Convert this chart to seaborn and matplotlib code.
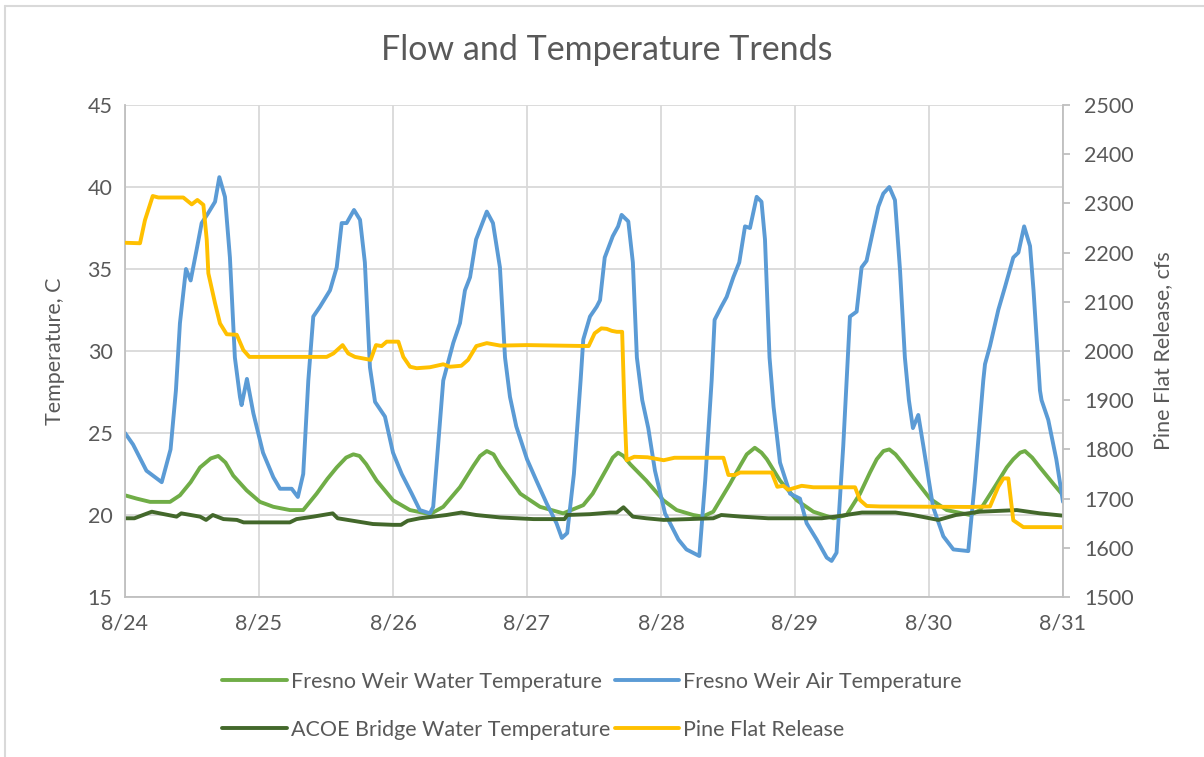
import matplotlib
matplotlib.use("Agg")
import matplotlib.pyplot as plt
from matplotlib.lines import Line2D
import seaborn as sns
import pandas as pd

# ---- data (x in days since 8/24 00:00) ----
air_day = [0.0, 0.06, 0.16, 0.274, 0.34, 0.38, 0.41, 0.455, 0.49, 0.535, 0.572, 0.62, 0.672, 0.704, 0.746,
           0.783, 0.82, 0.858, 0.87, 0.91, 0.958, 1.03, 1.107, 1.157, 1.244, 1.29, 1.33, 1.368, 1.405, 1.455,
           1.53, 1.58, 1.617, 1.654, 1.709, 1.754, 1.79, 1.828, 1.866, 1.94, 2.0, 2.065, 2.14, 2.2, 2.276,
           2.3, 2.375, 2.45, 2.5, 2.537, 2.575, 2.62, 2.70, 2.746, 2.798, 2.836, 2.873, 2.92, 3.0, 3.07,
           3.147, 3.22, 3.26, 3.3, 3.35, 3.4, 3.42, 3.47, 3.52, 3.545, 3.58, 3.64, 3.68, 3.706, 3.756,
           3.79, 3.82, 3.86, 3.905, 3.955, 4.03, 4.13, 4.19, 4.286, 4.33, 4.378, 4.40, 4.45, 4.49, 4.54,
           4.584, 4.627, 4.664, 4.714, 4.75, 4.776, 4.81, 4.84, 4.888, 4.963, 5.037, 5.087, 5.162, 5.237,
           5.273, 5.31, 5.36, 5.385, 5.41, 5.46, 5.497, 5.534, 5.584, 5.622, 5.659, 5.704, 5.746, 5.784,
           5.82, 5.85, 5.88, 5.92, 5.958, 6.03, 6.107, 6.182, 6.293, 6.343, 6.405, 6.418, 6.455, 6.517,
           6.567, 6.629, 6.667, 6.71, 6.754, 6.78, 6.828, 6.84, 6.89, 6.95, 7.0]
air_temp = [25.0, 24.3, 22.7, 22.0, 24.0, 27.6, 31.7, 35.0, 34.3, 36.2, 37.8, 38.4, 39.1, 40.6, 39.4,
            35.7, 29.6, 27.2, 26.7, 28.3, 26.2, 23.8, 22.3, 21.6, 21.6, 21.1, 22.5, 28.2, 32.1, 32.7,
            33.7, 35.1, 37.8, 37.8, 38.6, 38.0, 35.4, 29.0, 26.9, 26.0, 23.8, 22.5, 21.3, 20.3, 20.1,
            20.5, 28.2, 30.5, 31.7, 33.7, 34.5, 36.8, 38.5, 37.8, 35.1, 29.6, 27.2, 25.4, 23.4, 22.1,
            20.7, 19.5, 18.6, 18.9, 22.5, 28.2, 30.7, 32.1, 32.7, 33.1, 35.7, 37.0, 37.6, 38.3, 37.9,
            35.4, 29.6, 27.0, 25.3, 22.7, 20.1, 18.5, 17.9, 17.5, 22.1, 28.2, 31.9, 32.7, 33.3, 34.5,
            35.4, 37.6, 37.5, 39.4, 39.1, 36.8, 29.6, 26.6, 23.2, 21.3, 21.0, 19.5, 18.5, 17.4,
            17.2, 17.7, 24.2, 28.2, 32.1, 32.4, 35.1, 35.5, 37.4, 38.8, 39.6, 40.0, 39.2, 34.9,
            29.6, 27.0, 25.3, 26.1, 24.2, 20.5, 18.7, 17.9, 17.8, 22.1, 28.2, 29.2, 30.3, 32.5,
            33.9, 35.7, 36.0, 37.6, 36.4, 33.7, 27.6, 27.0, 25.8, 23.4, 20.8]

water_day = [0.0, 0.087, 0.187, 0.336, 0.41, 0.49, 0.56, 0.64, 0.696, 0.75, 0.808, 0.908, 1.007, 1.107,
             1.231, 1.33, 1.43, 1.51, 1.58, 1.65, 1.704, 1.75, 1.80, 1.878, 2.0, 2.127, 2.276, 2.375,
             2.5, 2.6, 2.65, 2.7, 2.75, 2.8, 2.95, 3.097, 3.27, 3.42, 3.49, 3.545, 3.6, 3.64, 3.68,
             3.72, 3.77, 3.89, 4.017, 4.117, 4.24, 4.31, 4.39, 4.515, 4.59, 4.64, 4.70, 4.75, 4.79,
             4.888, 5.013, 5.137, 5.286, 5.385, 5.485, 5.56, 5.61, 5.66, 5.704, 5.75, 5.80, 5.883,
             6.007, 6.132, 6.306, 6.381, 6.505, 6.58, 6.629, 6.68, 6.716, 6.77, 6.828, 6.928, 7.0]
water_temp = [21.2, 21.0, 20.8, 20.8, 21.2, 22.0, 22.9, 23.45, 23.6, 23.2, 22.4, 21.5, 20.8, 20.5,
              20.3, 20.3, 21.3, 22.2, 22.9, 23.5, 23.7, 23.6, 23.1, 22.1, 20.9, 20.3, 20.05, 20.5,
              21.7, 23.0, 23.6, 23.9, 23.7, 23.0, 21.3, 20.5, 20.1, 20.6, 21.3, 22.1, 22.9, 23.5, 23.8,
              23.6, 23.1, 22.1, 20.9, 20.3, 20.0, 19.9, 20.2, 21.9, 23.0, 23.7, 24.1, 23.8, 23.4,
              22.1, 20.9, 20.2, 19.8, 20.0, 21.3, 22.6, 23.4, 23.9, 24.0, 23.7, 23.2, 22.3,
              21.0, 20.3, 20.0, 20.3, 21.9, 22.9, 23.4, 23.8, 23.9, 23.5, 22.9, 21.9, 21.2]

acoe_day = [0.0, 0.07, 0.2, 0.26, 0.385, 0.42, 0.56, 0.605, 0.655, 0.735, 0.835, 0.885, 1.23, 1.28,
            1.405, 1.55, 1.587, 1.7, 1.85, 2.0, 2.06, 2.11, 2.2, 2.3, 2.4, 2.51, 2.62, 2.8, 3.05,
            3.28, 3.3, 3.47, 3.62, 3.67, 3.72, 3.79, 3.89, 4.02, 4.39, 4.45, 4.6, 4.8, 5.2, 5.3,
            5.5, 5.75, 5.88, 6.07, 6.2, 6.38, 6.655, 6.828, 7.0]
acoe_temp = [19.8, 19.8, 20.2, 20.1, 19.9, 20.1, 19.9, 19.7, 20.0, 19.75, 19.7, 19.55, 19.55, 19.75,
             19.9, 20.1, 19.8, 19.65, 19.45, 19.4, 19.4, 19.65, 19.8, 19.9, 20.0, 20.15, 20.0, 19.85, 19.75,
             19.75, 20.0, 20.05, 20.15, 20.15, 20.47, 19.9, 19.8, 19.7, 19.8, 20.0, 19.9, 19.8, 19.8, 19.9,
             20.15, 20.15, 20.0, 19.7, 20.0, 20.2, 20.3, 20.1, 19.96]

flow_day = [0.0, 0.112, 0.149, 0.207, 0.249, 0.435, 0.498, 0.54, 0.585, 0.61, 0.622, 0.672, 0.709,
            0.759, 0.834, 0.883, 0.928, 1.505, 1.555, 1.624, 1.666, 1.716, 1.833, 1.873, 1.915,
            1.953, 2.04, 2.077, 2.127, 2.177, 2.276, 2.375, 2.425, 2.51, 2.56, 2.622, 2.70, 2.80,
            3.0, 3.46, 3.505, 3.555, 3.595, 3.632, 3.67, 3.71, 3.727, 3.743, 3.8, 3.9, 4.02, 4.1,
            4.466, 4.503, 4.552, 4.59, 4.826, 4.868, 4.913, 4.95, 5.05, 5.137, 5.448, 5.485, 5.535,
            5.634, 6.306, 6.455, 6.517, 6.555, 6.592, 6.629, 6.704, 7.0]
flow_cfs = [2220, 2219, 2266, 2315, 2312, 2312, 2298, 2307, 2297, 2226, 2158, 2097, 2056,
            2034, 2033, 2002, 1988, 1988, 1995, 2012, 1995, 1988, 1982, 2012, 2010,
            2019, 2019, 1988, 1968, 1965, 1967, 1973, 1968, 1970, 1982, 2010, 2016, 2011,
            2012, 2010, 2036, 2046, 2045, 2041, 2039, 2039, 1887, 1778, 1785, 1784, 1778, 1783,
            1783, 1748, 1748, 1753, 1753, 1724, 1726, 1718, 1726, 1723, 1723, 1697, 1685,
            1684, 1683, 1684, 1724, 1741, 1741, 1656, 1642, 1642]

tick_labels = ["8/24", "8/25", "8/26", "8/27", "8/28", "8/29", "8/30", "8/31"]

# ---- style ----
sns.set_theme(style="white")
plt.rcParams['font.family'] = ['Lato', 'DejaVu Sans']
GRAY = "#595959"
GRID = "#d9d9d9"
SPINE = "#bfbfbf"

fig = plt.figure(figsize=(12.04, 7.57), dpi=100)
ax = fig.add_axes([125/1204, 1 - 597/757, (1063-125)/1204, (597-105)/757])
ax2 = ax.twinx()

LW = 2.8
kw = dict(lw=LW, legend=False)
sns.lineplot(x=water_day, y=water_temp, ax=ax, color="#70AD47", label="Fresno Weir Water Temperature", **kw)
sns.lineplot(x=air_day, y=air_temp, ax=ax, color="#5B9BD5", label="Fresno Weir Air Temperature", **kw)
sns.lineplot(x=acoe_day, y=acoe_temp, ax=ax, color="#43682B", label="ACOE Bridge Water Temperature", **kw)
sns.lineplot(x=flow_day, y=flow_cfs, ax=ax2, color="#FFC000", label="Pine Flat Release", **kw)
for a in (ax, ax2):
    for ln in a.get_lines():
        ln.set_solid_joinstyle("round")
        ln.set_solid_capstyle("round")

ax.set_xlim(0, 7)
ax.set_ylim(15, 45)
ax2.set_ylim(1500, 2500)
ax.set_xticks(range(8))
ax.set_xticklabels(tick_labels)
ax.set_yticks(range(15, 46, 5))
ax2.set_yticks(range(1500, 2501, 100))

ax.grid(True, color=GRID, lw=1.3)
ax.set_axisbelow(True)
ax2.grid(False)

FS = 15.5
for a in (ax, ax2):
    for s in a.spines.values():
        s.set_visible(False)
ax.spines['left'].set_visible(True)
ax.spines['left'].set_color(SPINE)
ax.spines['bottom'].set_visible(True)
ax.spines['bottom'].set_color(SPINE)
ax2.spines['right'].set_visible(True)
ax2.spines['right'].set_color(SPINE)
for s in ('left', 'bottom'):
    ax.spines[s].set_linewidth(1.3)
ax2.spines['right'].set_linewidth(1.3)

ax.tick_params(axis='both', length=0, labelsize=FS, labelcolor=GRAY, pad=9)
ax.tick_params(axis='x', pad=12)
ax2.tick_params(axis='y', length=5, width=1.3, color=SPINE, direction='out', labelsize=FS, labelcolor=GRAY, pad=10)

ax.set_xlabel("")
ax.set_ylabel("Temperature, C", fontsize=FS, color=GRAY, labelpad=16)
ax2.set_ylabel("Pine Flat Release, cfs", fontsize=FS, color=GRAY, labelpad=14)

fig.text(607/1204, 1 - 50/757, "Flow and Temperature Trends", ha="center", va="center",
         fontsize=24.5, color=GRAY)

handles = ax.get_lines()[:3] + ax2.get_lines()[:1]
labels = [h.get_label() for h in handles]
order = [0, 2, 1, 3]
leg = fig.legend([handles[i] for i in order], [labels[i] for i in order],
                 loc="center", bbox_to_anchor=(592/1204, 1 - 706/757), ncol=2, frameon=False,
                 fontsize=FS, handlelength=3.0, handletextpad=0.2, columnspacing=0.2,
                 labelspacing=1.3, borderpad=0)
for t in leg.get_texts():
    t.set_color(GRAY)

# outer chart border (only left and top visible in reference)
fig.add_artist(Line2D([5/1204, 5/1204], [0, 1 - 6/757], color="#d9d9d9", lw=1.5, transform=fig.transFigure))
fig.add_artist(Line2D([5/1204, 1], [1 - 6/757, 1 - 6/757], color="#d9d9d9", lw=1.5, transform=fig.transFigure))

fig.savefig("out.png", dpi=100, facecolor="white")
